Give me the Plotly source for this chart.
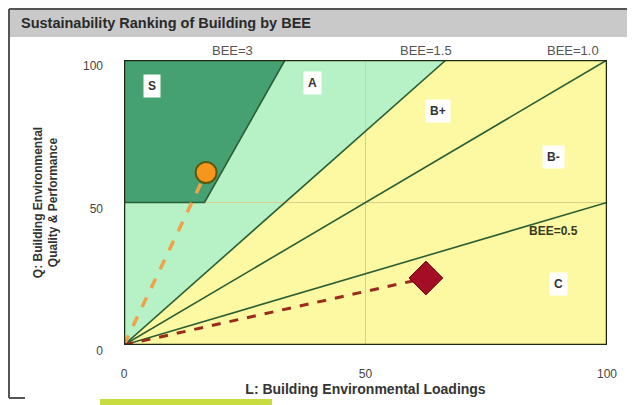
import plotly.graph_objects as go

# ---- data ----
bee_levels = [3.0, 1.5, 1.0, 0.5]
bee_labels = ["BEE=3", "BEE=1.5", "BEE=1.0", "BEE=0.5"]
rank_labels = ["S", "A", "B+", "B-", "C"]
rank_L = [5.8, 39, 65, 89, 90]
rank_Q = [91, 92, 82, 66, 21.5]
building_a_L = [17.0]
building_a_Q = [60.5]
building_b_L = [62.5]
building_b_Q = [23.5]
s_min_Q = 50
x_ticks = [0, 50, 100]
y_ticks = [0, 50, 100]

line_col = "#2b5e34"
fig = go.Figure()

# background yellow
fig.add_trace(go.Scatter(x=[0, 100, 100, 0], y=[0, 0, 100, 100], fill="toself",
                         fillcolor="#fdf9a2", line=dict(width=0), mode="lines",
                         hoverinfo="skip", showlegend=False))
# A region (BEE >= 1.5)
b15 = bee_levels[1]
fig.add_trace(go.Scatter(x=[0, 100 / b15, 0], y=[0, 100, 100], fill="toself",
                         fillcolor="#b6f2c6", line=dict(width=0), mode="lines",
                         hoverinfo="skip", showlegend=False))
# S region
b3 = bee_levels[0]
fig.add_trace(go.Scatter(x=[0, s_min_Q / b3, 100 / b3, 0], y=[s_min_Q, s_min_Q, 100, 100],
                         fill="toself", fillcolor="#46a172", line=dict(width=0), mode="lines",
                         hoverinfo="skip", showlegend=False))

# grid lines at 50
fig.add_trace(go.Scatter(x=[50, 50], y=[0, 100], mode="lines",
                         line=dict(color="#d8cf8a", width=1), showlegend=False, hoverinfo="skip"))
fig.add_trace(go.Scatter(x=[s_min_Q / b3, 100], y=[50, 50], mode="lines",
                         line=dict(color="#d8cf8a", width=1), showlegend=False, hoverinfo="skip"))

# BEE lines
fig.add_trace(go.Scatter(x=[0, s_min_Q / b3, 100 / b3], y=[s_min_Q, s_min_Q, 100], mode="lines",
                         line=dict(color=line_col, width=1.6), showlegend=False, hoverinfo="skip"))
for b in bee_levels[1:]:
    xe = min(100, 100 / b)
    ye = xe * b
    fig.add_trace(go.Scatter(x=[0, xe], y=[0, ye], mode="lines",
                             line=dict(color=line_col, width=1.6), showlegend=False, hoverinfo="skip"))

# dashed lines to buildings
fig.add_trace(go.Scatter(x=[0, building_a_L[0]], y=[0, building_a_Q[0]], mode="lines",
                         line=dict(color="#f0a24a", width=3.5, dash="dash"), showlegend=False))
fig.add_trace(go.Scatter(x=[0, building_b_L[0]], y=[0, building_b_Q[0]], mode="lines",
                         line=dict(color="#9a2a1c", width=3, dash="dash"), showlegend=False))
fig.add_trace(go.Scatter(x=building_a_L, y=building_a_Q, mode="markers",
                         marker=dict(symbol="circle", size=21, color="#f7961c",
                                     line=dict(color="#5a5a10", width=2)), showlegend=False))
fig.add_trace(go.Scatter(x=building_b_L, y=building_b_Q, mode="markers",
                         marker=dict(symbol="diamond", size=26, color="#a50d26",
                                     line=dict(color="#6a0a10", width=1)), showlegend=False))

# rank labels
for t, lx, ly in zip(rank_labels, rank_L, rank_Q):
    fig.add_annotation(x=lx, y=ly, text="<b>%s</b>" % t, showarrow=False,
                       bgcolor="white", borderpad=4,
                       font=dict(family="Liberation Sans, Arial", size=12, color="#333333"))

# BEE labels on top (placed left of where each line meets the top edge)
top_label_x = [22.5, 62.5, 93.0]
for tx, t in zip(top_label_x, bee_labels[:3]):
    fig.add_annotation(x=tx, y=100, text=t, showarrow=False, yshift=10,
                       font=dict(family="Liberation Sans, Arial", size=13, color="#555555"))
fig.add_annotation(x=89, y=40, text="<b>" + bee_labels[3] + "</b>", showarrow=False,
                   font=dict(family="Liberation Sans, Arial", size=12, color="#3a3a20"))

# helpers: window pixel -> paper coords (page has an 8px body margin)
def py(p):
    return (345 - p) / 285

def px(p):
    return (p - 124) / 483

# header band
fig.add_shape(type="rect", xref="paper", yref="paper", x0=px(9), x1=px(640),
              y0=py(37), y1=py(10), fillcolor="#c9c9c9", line=dict(width=0), layer="below")
fig.add_annotation(xref="paper", yref="paper", x=px(19), y=py(23),
                   xanchor="left", yanchor="middle",
                   text="<b>Sustainability Ranking of Building by BEE</b>",
                   showarrow=False, font=dict(family="Liberation Sans, Arial", size=14.5, color="#2a2a2a"))
# frame lines
fig.add_shape(type="line", xref="paper", yref="paper", x0=px(9), x1=px(9),
              y0=py(398), y1=py(9), line=dict(color="#555555", width=2))
fig.add_shape(type="line", xref="paper", yref="paper", x0=px(9), x1=px(640),
              y0=py(9), y1=py(9), line=dict(color="#555555", width=2))
fig.add_shape(type="line", xref="paper", yref="paper", x0=px(9), x1=px(25),
              y0=py(398), y1=py(398), line=dict(color="#555555", width=2))
fig.add_shape(type="rect", xref="paper", yref="paper", x0=px(100), x1=px(272),
              y0=py(406), y1=py(399), fillcolor="#c8dc40", line=dict(width=0))

# plot border
fig.add_shape(type="rect", xref="x", yref="y", x0=0, x1=100, y0=0, y1=100,
              line=dict(color="#1e2a12", width=2.5))

axis_font = dict(family="Liberation Sans, Arial", size=12, color="#444444")
fig.update_layout(
    width=627, height=397,
    margin=dict(l=116, r=28, t=52, b=60, autoexpand=False),
    paper_bgcolor="white", plot_bgcolor="white",
    font=dict(family="Liberation Sans, Arial"),
    xaxis=dict(range=[0, 100], tickvals=x_ticks, ticktext=[str(v) for v in x_ticks],
               showgrid=False, zeroline=False, showline=False, ticks="", automargin=False,
               tickfont=axis_font, ticklabelstandoff=20,
               title=dict(text="<b>L: Building Environmental Loadings</b>", standoff=0,
                          font=dict(size=14, color="#333333"))),
    yaxis=dict(range=[0, 100], tickvals=y_ticks, ticktext=[str(v) for v in y_ticks],
               showgrid=False, zeroline=False, showline=False, ticks="", automargin=False,
               tickfont=axis_font, ticklabelstandoff=20, ticklabelshift=6,
               title=dict(text="<b>Q: Building Environmental<br>Quality & Performance</b>",
                          standoff=22, font=dict(size=12, color="#333333"))),
)

fig.write_html("out.html")
